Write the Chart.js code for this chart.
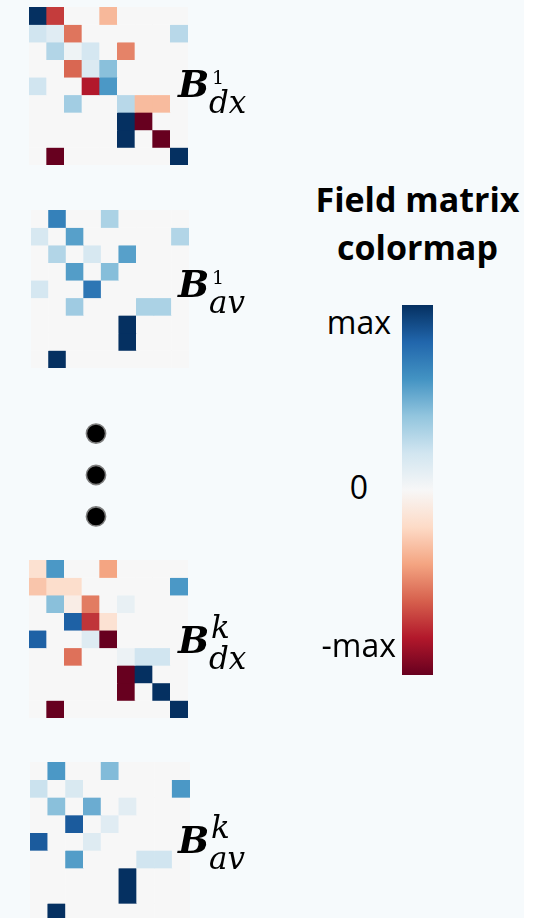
<!DOCTYPE html>
<html>
<head>
<meta charset="utf-8">
<title>Field matrices</title>
<script src="https://cdn.jsdelivr.net/npm/chart.js@4.4.1/dist/chart.umd.min.js"></script>
<style>
  html, body { margin: 0; padding: 0; background: #ffffff; }
  #page { position: relative; width: 533px; height: 918px; overflow: hidden; background: #ffffff; }
  #panel { position: absolute; left: 0; top: 0; width: 524px; height: 918px; background: #f6fafc; }
  .box { position: absolute; }
  .matrix { background: #f7f7f7; }
  .txt { position: absolute; white-space: nowrap; color: #000; line-height: 1; }
  .sym { font-family: "DejaVu Serif", serif; font-weight: bold; font-style: italic; font-size: 37px; }
  .scr { font-family: "DejaVu Serif", serif; font-style: italic; font-size: 31px; }
  .num { font-family: "DejaVu Serif", serif; font-style: normal; font-size: 19px; }
  .title { font-family: "Open Sans", sans-serif; font-weight: bold; font-size: 34px; line-height: 48px; text-align: center; transform: translateX(-50%); }
  .tick { font-family: "Open Sans", sans-serif; font-size: 32px; line-height: 32px; }
</style>
</head>
<body>
<div id="page">
  <div id="panel"></div>

  <div class="box matrix" style="left:29px; top:7px; width:159px; height:158px;"><canvas id="mDx1"></canvas></div>
  <div class="box matrix" style="left:31px; top:210px; width:158px; height:158px;"><canvas id="mAv1"></canvas></div>
  <div class="box" style="left:56px; top:417px; width:80px; height:116px;"><canvas id="dots"></canvas></div>
  <div class="box matrix" style="left:29px; top:560px; width:159px; height:158px;"><canvas id="mDxK"></canvas></div>
  <div class="box matrix" style="left:30px; top:762px; width:160px; height:159px;"><canvas id="mAvK"></canvas></div>

  <div class="box" style="left:402px; top:305px; width:31px; height:370px;"><canvas id="colorbar"></canvas></div>

  <div id="labels"></div>
</div>

<script>
// ---- data -----------------------------------------------------------------
// 9 x 9 field matrices, values normalised to [-max, max] = [-1, 1]
const columns = ['1', '2', '3', '4', '5', '6', '7', '8', '9'];

const fieldDx1 = [
  [ 1.00, -0.70,  0.00,  0.00, -0.33,  0.00,  0.00,  0.00,  0.00],
  [ 0.20,  0.12, -0.54,  0.00,  0.00,  0.00,  0.00,  0.00,  0.28],
  [ 0.00,  0.30,  0.05,  0.18,  0.00, -0.50,  0.00,  0.00,  0.00],
  [ 0.00,  0.00, -0.58,  0.15,  0.42,  0.00,  0.00,  0.00,  0.00],
  [ 0.20,  0.00,  0.00, -0.80,  0.58,  0.00,  0.00,  0.00,  0.00],
  [ 0.00,  0.00,  0.35,  0.00,  0.00,  0.28, -0.32, -0.32,  0.00],
  [ 0.00,  0.00,  0.00,  0.00,  0.00,  1.00, -1.00,  0.00,  0.00],
  [ 0.00,  0.00,  0.00,  0.00,  0.00,  1.00,  0.00, -1.00,  0.00],
  [ 0.00, -1.00,  0.00,  0.00,  0.00,  0.00,  0.00,  0.00,  1.00]
];

const fieldAv1 = [
  [ 0.00,  0.68,  0.00,  0.00,  0.32,  0.00,  0.00,  0.00,  0.00],
  [ 0.17,  0.00,  0.55,  0.00,  0.00,  0.00,  0.00,  0.00,  0.30],
  [ 0.00,  0.30,  0.00,  0.17,  0.00,  0.55,  0.00,  0.00,  0.00],
  [ 0.00,  0.00,  0.56,  0.00,  0.43,  0.00,  0.00,  0.00,  0.00],
  [ 0.18,  0.00,  0.00,  0.73,  0.00,  0.00,  0.00,  0.00,  0.00],
  [ 0.00,  0.00,  0.36,  0.00,  0.00,  0.00,  0.32,  0.32,  0.00],
  [ 0.00,  0.00,  0.00,  0.00,  0.00,  1.00,  0.00,  0.00,  0.00],
  [ 0.00,  0.00,  0.00,  0.00,  0.00,  1.00,  0.00,  0.00,  0.00],
  [ 0.00,  1.00,  0.00,  0.00,  0.00,  0.00,  0.00,  0.00,  0.00]
];

const fieldDxK = [
  [-0.16,  0.58,  0.00,  0.00, -0.40,  0.00,  0.00,  0.00,  0.00],
  [-0.28, -0.18, -0.18,  0.00,  0.00,  0.00,  0.00,  0.00,  0.58],
  [ 0.00,  0.42, -0.07, -0.52,  0.00,  0.08,  0.00,  0.00,  0.00],
  [ 0.00,  0.00,  0.82, -0.72, -0.15,  0.00,  0.00,  0.00,  0.00],
  [ 0.82,  0.00,  0.00,  0.13, -1.00,  0.00,  0.00,  0.00,  0.00],
  [ 0.00,  0.00, -0.55,  0.00,  0.00,  0.06,  0.20,  0.20,  0.00],
  [ 0.00,  0.00,  0.00,  0.00,  0.00, -1.00,  1.00,  0.00,  0.00],
  [ 0.00,  0.00,  0.00,  0.00,  0.00, -1.00,  0.00,  1.00,  0.00],
  [ 0.00, -1.00,  0.00,  0.00,  0.00,  0.00,  0.00,  0.00,  1.00]
];

const fieldAvK = [
  [ 0.00,  0.58,  0.00,  0.00,  0.44,  0.00,  0.00,  0.00,  0.00],
  [ 0.22,  0.00,  0.16,  0.00,  0.00,  0.00,  0.00,  0.00,  0.58],
  [ 0.00,  0.42,  0.00,  0.50,  0.00,  0.11,  0.00,  0.00,  0.00],
  [ 0.00,  0.00,  0.84,  0.00,  0.12,  0.00,  0.00,  0.00,  0.00],
  [ 0.84,  0.00,  0.00,  0.13,  0.00,  0.00,  0.00,  0.00,  0.00],
  [ 0.00,  0.00,  0.56,  0.00,  0.00,  0.00,  0.20,  0.20,  0.00],
  [ 0.00,  0.00,  0.00,  0.00,  0.00,  1.00,  0.00,  0.00,  0.00],
  [ 0.00,  0.00,  0.00,  0.00,  0.00,  1.00,  0.00,  0.00,  0.00],
  [ 0.00,  1.00,  0.00,  0.00,  0.00,  0.00,  0.00,  0.00,  0.00]
];

// matrix names: symbol, superscript, subscript
const matrixSymbols = ['B', 'B', 'B', 'B'];
const matrixSups = ['1', '1', 'k', 'k'];
const matrixSubs = ['dx', 'av', 'dx', 'av'];

// ellipsis between the first and the k-th pair
const ellipsisDots = [0, 1, 2];

// colour bar
const colorbarTitle = ['Field matrix', 'colormap'];
const colorbarLabels = ['max', '0', '-max'];

// ---- diverging red/blue colour map ---------------------------------------
const RDBU = ['#67001f', '#b2182b', '#d6604d', '#f4a582', '#fddbc7', '#f7f7f7',
              '#d1e5f0', '#92c5de', '#4393c3', '#2166ac', '#053061'];

function hexToRgb(h) {
  return [parseInt(h.slice(1, 3), 16), parseInt(h.slice(3, 5), 16), parseInt(h.slice(5, 7), 16)];
}
const RDBU_RGB = RDBU.map(hexToRgb);

function rdbu(v) {
  const t = Math.max(0, Math.min(1, (v + 1) / 2)) * (RDBU_RGB.length - 1);
  const i = Math.min(Math.floor(t), RDBU_RGB.length - 2);
  const f = t - i;
  const a = RDBU_RGB[i], b = RDBU_RGB[i + 1];
  const c = a.map((x, k) => Math.round(x + (b[k] - x) * f));
  return 'rgb(' + c.join(',') + ')';
}

// ---- charts ---------------------------------------------------------------
const quiet = {
  responsive: true,
  maintainAspectRatio: false,
  animation: false,
  events: [],
  layout: { padding: 0, autoPadding: false },
  plugins: { legend: { display: false }, tooltip: { enabled: false } }
};

function matrixChart(id, values) {
  // one floating-bar dataset per row; every bar spans one row band of one column
  const datasets = values.map((row, r) => ({
    label: 'row ' + (r + 1),
    data: row.map(() => [r, r + 1]),
    backgroundColor: row.map(v => rdbu(v)),
    borderWidth: 0,
    barPercentage: 1,
    categoryPercentage: 1,
    grouped: false
  }));
  return new Chart(document.getElementById(id), {
    type: 'bar',
    data: { labels: columns, datasets },
    options: Object.assign({}, quiet, {
      scales: {
        x: { display: false, offset: true },
        y: { display: false, min: 0, max: values.length, reverse: true }
      }
    })
  });
}

matrixChart('mDx1', fieldDx1);
matrixChart('mAv1', fieldAv1);
matrixChart('mDxK', fieldDxK);
matrixChart('mAvK', fieldAvK);

new Chart(document.getElementById('dots'), {
  type: 'scatter',
  data: {
    datasets: [{
      data: ellipsisDots.map(d => ({ x: 0, y: d })),
      clip: false,
      pointRadius: 9.6,
      pointBorderWidth: 1.6,
      pointBackgroundColor: '#000000',
      pointBorderColor: '#7d7d7d'
    }]
  },
  options: Object.assign({}, quiet, {
    scales: {
      x: { display: false, min: -1, max: 1 },
      y: { display: false, min: -0.4, max: 2.4, reverse: true }
    }
  })
});

new Chart(document.getElementById('colorbar'), {
  type: 'bar',
  data: {
    labels: ['field'],
    datasets: [{
      data: [[-1, 1]],
      borderWidth: 0,
      barPercentage: 1,
      categoryPercentage: 1,
      backgroundColor(ctx) {
        const chart = ctx.chart;
        if (!chart.chartArea) return rdbu(0);
        const y = chart.scales.y;
        const g = chart.ctx.createLinearGradient(0, y.getPixelForValue(-1), 0, y.getPixelForValue(1));
        RDBU.forEach((c, i) => g.addColorStop(i / (RDBU.length - 1), c));
        return g;
      }
    }]
  },
  options: Object.assign({}, quiet, {
    scales: {
      x: { display: false, offset: true },
      y: { display: false, min: -1, max: 1 }
    }
  })
});

// ---- text -----------------------------------------------------------------
const labelLayer = document.getElementById('labels');
function addText(cls, text, style) {
  const d = document.createElement('div');
  d.className = 'txt ' + cls;
  d.innerHTML = text;
  Object.assign(d.style, style);
  labelLayer.appendChild(d);
  return d;
}

// matrix names, placed by baseline of the symbol
const nameX = [178, 178, 178, 178];
const nameBase = [97, 297, 653, 853];
matrixSymbols.forEach((s, i) => {
  const b = nameBase[i];
  addText('sym', s, { left: nameX[i] + 'px', top: (b - 31) + 'px' });
  const isNum = /\d/.test(matrixSups[i]);
  const supSize = isNum ? 19 : 31;
  addText(isNum ? 'num' : 'scr', matrixSups[i],
          { left: (nameX[i] + (isNum ? 34 : 33)) + 'px', top: (b - (isNum ? 13 : 15) - supSize * 0.85) + 'px' });
  addText('scr', matrixSubs[i], { left: (nameX[i] + 31) + 'px', top: (b + 16 - 31 * 0.85) + 'px' });
});

addText('title', colorbarTitle.join('<br>'), { left: '417.5px', top: '175px' });
addText('tick', colorbarLabels[0], { right: '142px', top: '306px' });
addText('tick', colorbarLabels[1], { left: '359px', top: '471px', transform: 'translateX(-50%)' });
addText('tick', colorbarLabels[2], { right: '137px', top: '629px' });
</script>
</body>
</html>
